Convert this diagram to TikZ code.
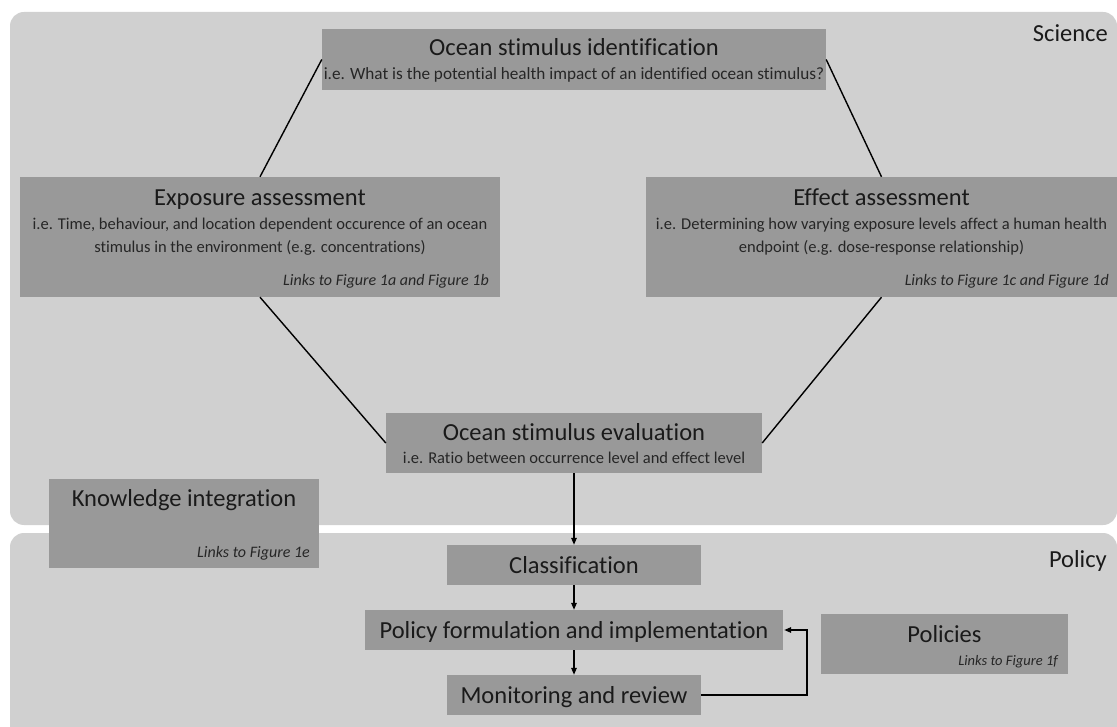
\documentclass[tikz,border=0pt]{standalone}
\usepackage{fontspec}
\setmainfont{Carlito}[Ligatures=NoCommon]
\usetikzlibrary{arrows.meta,fit}
\definecolor{panelgray}{HTML}{D0D0D0}
\definecolor{boxgray}{HTML}{999999}
\definecolor{txt}{HTML}{1A1A1A}
\definecolor{subtxt}{HTML}{262626}
\begin{document}
\begin{tikzpicture}[x=1pt,y=-1pt,
  panel/.style={fill=panelgray, rounded corners=14pt},
  box/.style={fill=boxgray, draw=none, inner sep=0pt},
  head/.style={anchor=base, inner sep=0pt, text=txt, font=\fontsize{24.5}{28}\selectfont},
  sub/.style={anchor=base, inner sep=0pt, text=subtxt, font=\fontsize{16.5}{23}\selectfont},
  links/.style={anchor=base east, inner sep=0pt, text=subtxt, font=\fontsize{16}{19}\selectfont\itshape},
  conn/.style={line width=1.4pt, black},
  arr/.style={line width=1.4pt, black, -{Triangle[length=7pt,width=5.5pt]}}]
\useasboundingbox (0,0) rectangle (1117,727);
\fill[white] (0,0) rectangle (1117,727);
% panels
\fill[panel] (10,12) rectangle (1117,525);
\fill[panel] (10,533) rectangle (1117,760);
\node[head, anchor=base east] (sci) at (1108,42) {Science};
\node[head, anchor=base east] (pol) at (1107,567) {Policy};
% science boxes
\node[box, fit={(322,29) (826,90)}] (oid) {};
\node[head] at (574,56) {Ocean stimulus identification};
\node[sub, font=\fontsize{17.2}{20}\selectfont] at (574,80) {i.e. What is the potential health impact of an identified ocean stimulus?};

\node[box, fit={(20,177) (500,297)}] (ea) {};
\node[head] at (260,206) {Exposure assessment};
\node[sub] at (260,230) {i.e. Time, behaviour, and location dependent occurence of an ocean};
\node[sub] at (260,253) {stimulus in the environment (e.g. concentrations)};
\node[links] at (489,286) {Links to Figure 1a and Figure 1b};

\node[box, fit={(646,177) (1117,297)}] (ef) {};
\node[head] at (881.5,206) {Effect assessment};
\node[sub] at (881.5,230) {i.e. Determining how varying exposure levels affect a human health};
\node[sub] at (881.5,253) {endpoint (e.g. dose-response relationship)};
\node[links] at (1109,286) {Links to Figure 1c and Figure 1d};

\node[box, fit={(386,413) (762,473)}] (ev) {};
\node[head] at (574,440) {Ocean stimulus evaluation};
\node[sub] at (574,463) {i.e. Ratio between occurrence level and effect level};

\node[box, fit={(49,479) (319,568)}] (ki) {};
\node[head] at (184,506) {Knowledge integration};
\node[links] at (310,557) {Links to Figure 1e};

% policy boxes
\node[box, fit={(447,545) (701,585)}] (cl) {};
\node[head] at (574,573) {Classification};
\node[box, fit={(365,610) (783,650)}] (pf) {};
\node[head] at (574,638) {Policy formulation and implementation};
\node[box, fit={(447,675) (701,715)}] (mr) {};
\node[head] at (574,703) {Monitoring and review};
\node[box, fit={(821,614) (1068,674)}] (po) {};
\node[head] at (944.5,642) {Policies};
\node[links, font=\fontsize{14.5}{17}\selectfont\itshape] at (1058,665) {Links to Figure 1f};

% connectors
\draw[conn] (ea.north) -- (oid.west);
\draw[conn] (oid.east) -- (ef.north);
\draw[conn] (ea.south) -- (ev.west);
\draw[conn] (ef.south) -- (ev.east);
\draw[arr] (ev.south) -- (cl.north);
\draw[arr] (cl.south) -- (pf.north -| cl.south);
\draw[arr] (pf.south -| mr.north) -- (mr.north);
\coordinate (loop) at (807,0);
\draw[arr] (mr.east) -- (mr.east -| loop) -- (pf.east -| loop) -- ([xshift=1pt]pf.east);
\end{tikzpicture}
\end{document}
